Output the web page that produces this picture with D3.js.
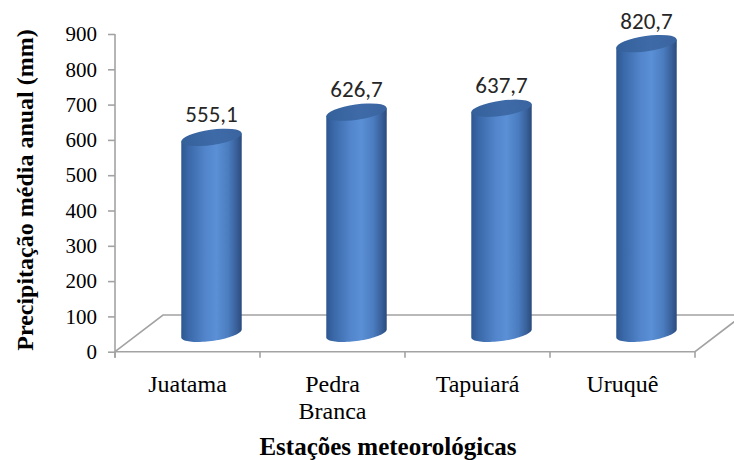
<!DOCTYPE html>
<html>
<head>
<meta charset="utf-8">
<script src="https://cdn.jsdelivr.net/npm/d3@7"></script>
<style>
  html, body { margin: 0; padding: 0; background: #fff; }
  svg { display: block; }
</style>
</head>
<body>
<svg id="chart" width="734" height="460"></svg>
<script>
// Annual mean precipitation per weather station
const categories = ["Juatama", "Pedra Branca", "Tapuiará", "Uruquê"];
const categoryLines = [["Juatama"], ["Pedra", "Branca"], ["Tapuiará"], ["Uruquê"]];
const precipitation = [555.1, 626.7, 637.7, 820.7];
const yTicks = [0, 100, 200, 300, 400, 500, 600, 700, 800, 900];
const yTitle = "Precipitação média anual (mm)";
const xTitle = "Estações meteorológicas";

const svg = d3.select("#chart");
const serif = "Liberation Serif";
const labelFont = "Carlito";

// Front plane of the 3D plot area and its depth offset
const plotLeft = 115, plotRight = 695;
const depthX = 48, depthY = -36.7;

const x = d3.scaleBand().domain(categories).range([plotLeft, plotRight]).padding(0);
const y = d3.scaleLinear().domain([0, 900]).range([351.7, 34]);

const gridColor = "#a3a3a3";
const ptBR = d3.formatLocale({ decimal: ",", thousands: ".", grouping: [3], currency: ["R$", ""] });
const fmt = ptBR.format(".1f");

// Gradients for the cylinders
const defs = svg.append("defs");
const body = defs.append("linearGradient").attr("id", "cylBody")
  .attr("x1", "0").attr("y1", "0").attr("x2", "1").attr("y2", "0");
[["0%", "#2d5790"], ["12%", "#3a68a8"], ["40%", "#5285cb"], ["58%", "#5b90d6"],
 ["78%", "#4a7cbf"], ["92%", "#385f98"], ["100%", "#2a4a7c"]]
  .forEach(([o, c]) => body.append("stop").attr("offset", o).attr("stop-color", c));
const cap = defs.append("linearGradient").attr("id", "cylTop")
  .attr("x1", "0").attr("y1", "0").attr("x2", "1").attr("y2", "0");
[["0%", "#34609a"], ["55%", "#3e6ba8"], ["100%", "#3a64a0"]]
  .forEach(([o, c]) => cap.append("stop").attr("offset", o).attr("stop-color", c));

// Floor of the 3D plot
const y0 = y(0);
const floor = svg.append("g").attr("fill", "none").attr("stroke", gridColor).attr("stroke-width", 1.6);
floor.append("path").attr("d", d3.line()([
  [plotLeft, y0], [plotLeft + depthX, y0 + depthY], [plotRight + depthX, y0 + depthY]
]));
floor.append("path").attr("d", d3.line()([
  [plotLeft, y0], [plotRight, y0], [plotRight + depthX, y0 + depthY]
]));

// Value axis on the front-left edge
const yAxis = svg.append("g").attr("transform", `translate(${plotLeft},0)`)
  .call(d3.axisLeft(y).tickValues(yTicks).tickSize(7).tickPadding(11).tickFormat(d3.format("d")));
yAxis.attr("font-family", null).attr("font-size", null);
yAxis.select(".domain").attr("stroke", gridColor).attr("stroke-width", 1.6)
  .attr("d", `M0,${y(900)}V${y0 + 6}`);
yAxis.selectAll(".tick line").attr("stroke", gridColor).attr("stroke-width", 1.6);
yAxis.selectAll(".tick text")
  .style("font-family", serif)
  .style("font-size", "21px").attr("fill", "#000");

// Category axis tick marks along the front edge
const xBounds = categories.map(c => x(c)).concat([plotRight]);
svg.append("g").selectAll("line").data(xBounds).join("line")
  .attr("x1", d => d).attr("x2", d => d)
  .attr("y1", y0).attr("y2", y0 + 6)
  .attr("stroke", gridColor).attr("stroke-width", 1.6);

// Category labels
categories.forEach((c, i) => {
  const cx = x(c) + x.bandwidth() / 2;
  const t = svg.append("text").attr("x", cx).attr("y", 392)
    .attr("text-anchor", "middle").attr("fill", "#000")
    .style("font-family", serif).style("font-size", "24px");
  categoryLines[i].forEach((line, j) => {
    t.append("tspan").attr("x", cx).attr("dy", j === 0 ? 0 : 27).text(line);
  });
});

// Cylinders (centred at half depth)
const rx = 30.5, ry = 7.6, tilt = -8 * Math.PI / 180;
function ellipsePoint(cx, cy, t) {
  return [
    cx + rx * Math.cos(t) * Math.cos(tilt) - ry * Math.sin(t) * Math.sin(tilt),
    cy + rx * Math.cos(t) * Math.sin(tilt) + ry * Math.sin(t) * Math.cos(tilt)
  ];
}
// parameter of the rightmost / leftmost point of the tilted ellipse
const tRight = Math.atan2(-ry * Math.sin(tilt), rx * Math.cos(tilt));
const tLeft = tRight + Math.PI;

const cylG = svg.append("g");
categories.forEach((c, i) => {
  const cx = x(c) + x.bandwidth() / 2 + depthX / 2;
  const yBase = y(0) + depthY / 2;
  const yTop = y(precipitation[i]) + depthY / 2;

  // front half of the base ellipse, right -> left
  const front = d3.range(0, 41).map(k => ellipsePoint(cx, yBase, tRight + Math.PI * k / 40));
  const topL = ellipsePoint(cx, yTop, tLeft);
  const topR = ellipsePoint(cx, yTop, tRight);
  cylG.append("path")
    .attr("d", d3.line()([topR].concat(front).concat([topL])) + "Z")
    .attr("fill", "url(#cylBody)");

  cylG.append("ellipse")
    .attr("cx", cx).attr("cy", yTop).attr("rx", rx).attr("ry", ry)
    .attr("transform", `rotate(${tilt * 180 / Math.PI},${cx},${yTop})`)
    .attr("fill", "url(#cylTop)");

  svg.append("text")
    .attr("x", cx).attr("y", yTop - ry - 7.5)
    .attr("text-anchor", "middle").attr("fill", "#262626")
    .style("font-family", labelFont).style("font-size", "23px")
    .text(fmt(precipitation[i]));
});

// Axis titles
svg.append("text")
  .attr("transform", "translate(33,190) rotate(-90)")
  .attr("text-anchor", "middle").attr("fill", "#000")
  .style("font-family", serif).style("font-weight", "bold").style("font-size", "24px")
  .text(yTitle);

svg.append("text")
  .attr("x", 388).attr("y", 455)
  .attr("text-anchor", "middle").attr("fill", "#000")
  .style("font-family", serif).style("font-weight", "bold").style("font-size", "25px")
  .text(xTitle);
</script>
</body>
</html>
